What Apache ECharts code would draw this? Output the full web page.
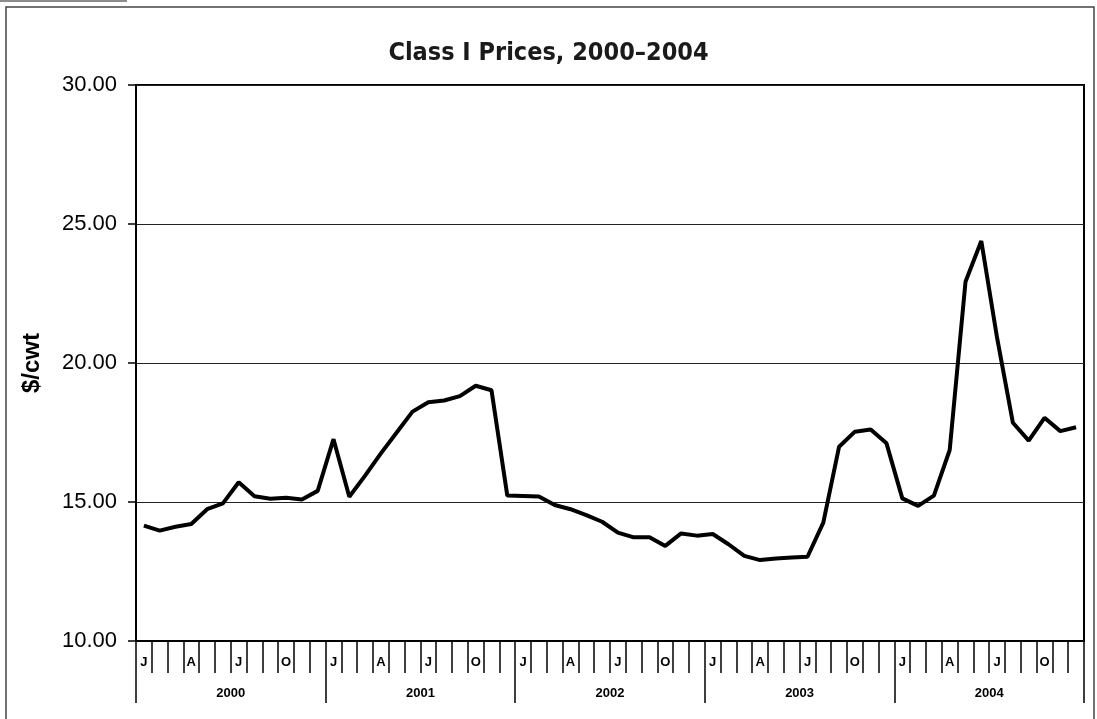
<!DOCTYPE html>
<html>
<head>
<meta charset="utf-8">
<script src="https://cdn.jsdelivr.net/npm/echarts@6/dist/echarts.min.js"></script>
<style>
  html, body { margin: 0; padding: 0; background: #fff; }
  #chart { width: 1097px; height: 719px; }
</style>
</head>
<body>
<div id="chart"></div>
<script>
  // month letters, one year's worth, repeated for 2000-2004
  const monthLetters = ['J', 'F', 'M', 'A', 'M', 'J', 'J', 'A', 'S', 'O', 'N', 'D'];
  const years = ['2000', '2001', '2002', '2003', '2004'];

  // Class I price, $/cwt, by month
  const prices2000 = [14.15, 13.97, 14.11, 14.21, 14.74, 14.95, 15.71, 15.21, 15.12, 15.15, 15.09, 15.40];
  const prices2001 = [17.26, 15.19, 15.95, 16.75, 17.50, 18.25, 18.59, 18.65, 18.81, 19.18, 19.02, 15.23];
  const prices2002 = [15.22, 15.20, 14.89, 14.74, 14.53, 14.29, 13.90, 13.73, 13.73, 13.42, 13.87, 13.79];
  const prices2003 = [13.85, 13.48, 13.06, 12.91, 12.97, 13.00, 13.03, 14.26, 16.99, 17.53, 17.61, 17.11];
  const prices2004 = [15.13, 14.86, 15.23, 16.87, 22.92, 24.39, 20.90, 17.85, 17.21, 18.03, 17.55, 17.69];

  const yTicks = [10, 15, 20, 25, 30];

  let months = [];
  years.forEach(() => { months = months.concat(monthLetters); });
  const prices = [].concat(prices2000, prices2001, prices2002, prices2003, prices2004);

  const chart = echarts.init(document.getElementById('chart'));

  chart.setOption({
    animation: false,
    backgroundColor: '#fff',
    title: {
      text: 'Class I Prices, 2000\u20132004',
      left: 'center',
      top: 36,
      textStyle: {
        fontFamily: 'DejaVu Sans Condensed',
        fontWeight: 'bold',
        fontSize: 25,
        color: '#1a1a1a'
      }
    },
    graphic: [
      {
        type: 'rect',
        shape: { x: 6, y: 7, width: 1088, height: 730 },
        style: { fill: null, stroke: '#444', lineWidth: 1.5 },
        silent: true
      },
      {
        type: 'line',
        shape: { x1: 0, y1: 1, x2: 127, y2: 1 },
        style: { stroke: '#666', lineWidth: 1.5 },
        silent: true
      }
    ],
    grid: {
      left: 136,
      right: 13,
      top: 85,
      bottom: 78,
      show: true,
      borderColor: '#000',
      borderWidth: 2
    },
    xAxis: [
      {
        type: 'category',
        data: months,
        boundaryGap: true,
        axisLine: { show: true, lineStyle: { color: '#000', width: 2 } },
        axisTick: {
          show: true,
          interval: 0,
          length: 32,
          lineStyle: { color: '#000', width: 1.5 }
        },
        axisLabel: {
          show: true,
          interval: 2,
          margin: 15,
          fontFamily: 'Liberation Sans',
          fontWeight: 'bold',
          fontSize: 13,
          color: '#000'
        },
        splitLine: { show: false }
      },
      {
        type: 'category',
        data: years,
        position: 'bottom',
        boundaryGap: true,
        axisLine: { show: false },
        axisTick: {
          show: true,
          interval: 0,
          length: 62,
          lineStyle: { color: '#000', width: 1.5 }
        },
        axisLabel: {
          show: true,
          interval: 0,
          margin: 46,
          fontFamily: 'Liberation Sans',
          fontWeight: 'bold',
          fontSize: 13,
          color: '#000'
        },
        splitLine: { show: false }
      }
    ],
    yAxis: {
      type: 'value',
      min: yTicks[0],
      max: yTicks[yTicks.length - 1],
      interval: 5,
      name: '$/cwt',
      nameLocation: 'middle',
      nameGap: 92,
      nameTextStyle: {
        fontFamily: 'Liberation Sans',
        fontWeight: 'bold',
        fontSize: 24,
        color: '#000'
      },
      axisLine: { show: true, lineStyle: { color: '#000', width: 2 } },
      axisTick: { show: true, length: 8, lineStyle: { color: '#000', width: 1.5 } },
      axisLabel: {
        margin: 19,
        formatter: v => v.toFixed(2),
        fontFamily: 'Liberation Sans',
        fontSize: 22,
        color: '#000'
      },
      splitLine: { lineStyle: { color: '#222', width: 1.2 } }
    },
    series: [{
      name: 'Class I',
      type: 'line',
      data: prices,
      xAxisIndex: 0,
      showSymbol: false,
      symbol: 'none',
      lineStyle: { color: '#000', width: 4 }
    }]
  });
</script>
</body>
</html>
